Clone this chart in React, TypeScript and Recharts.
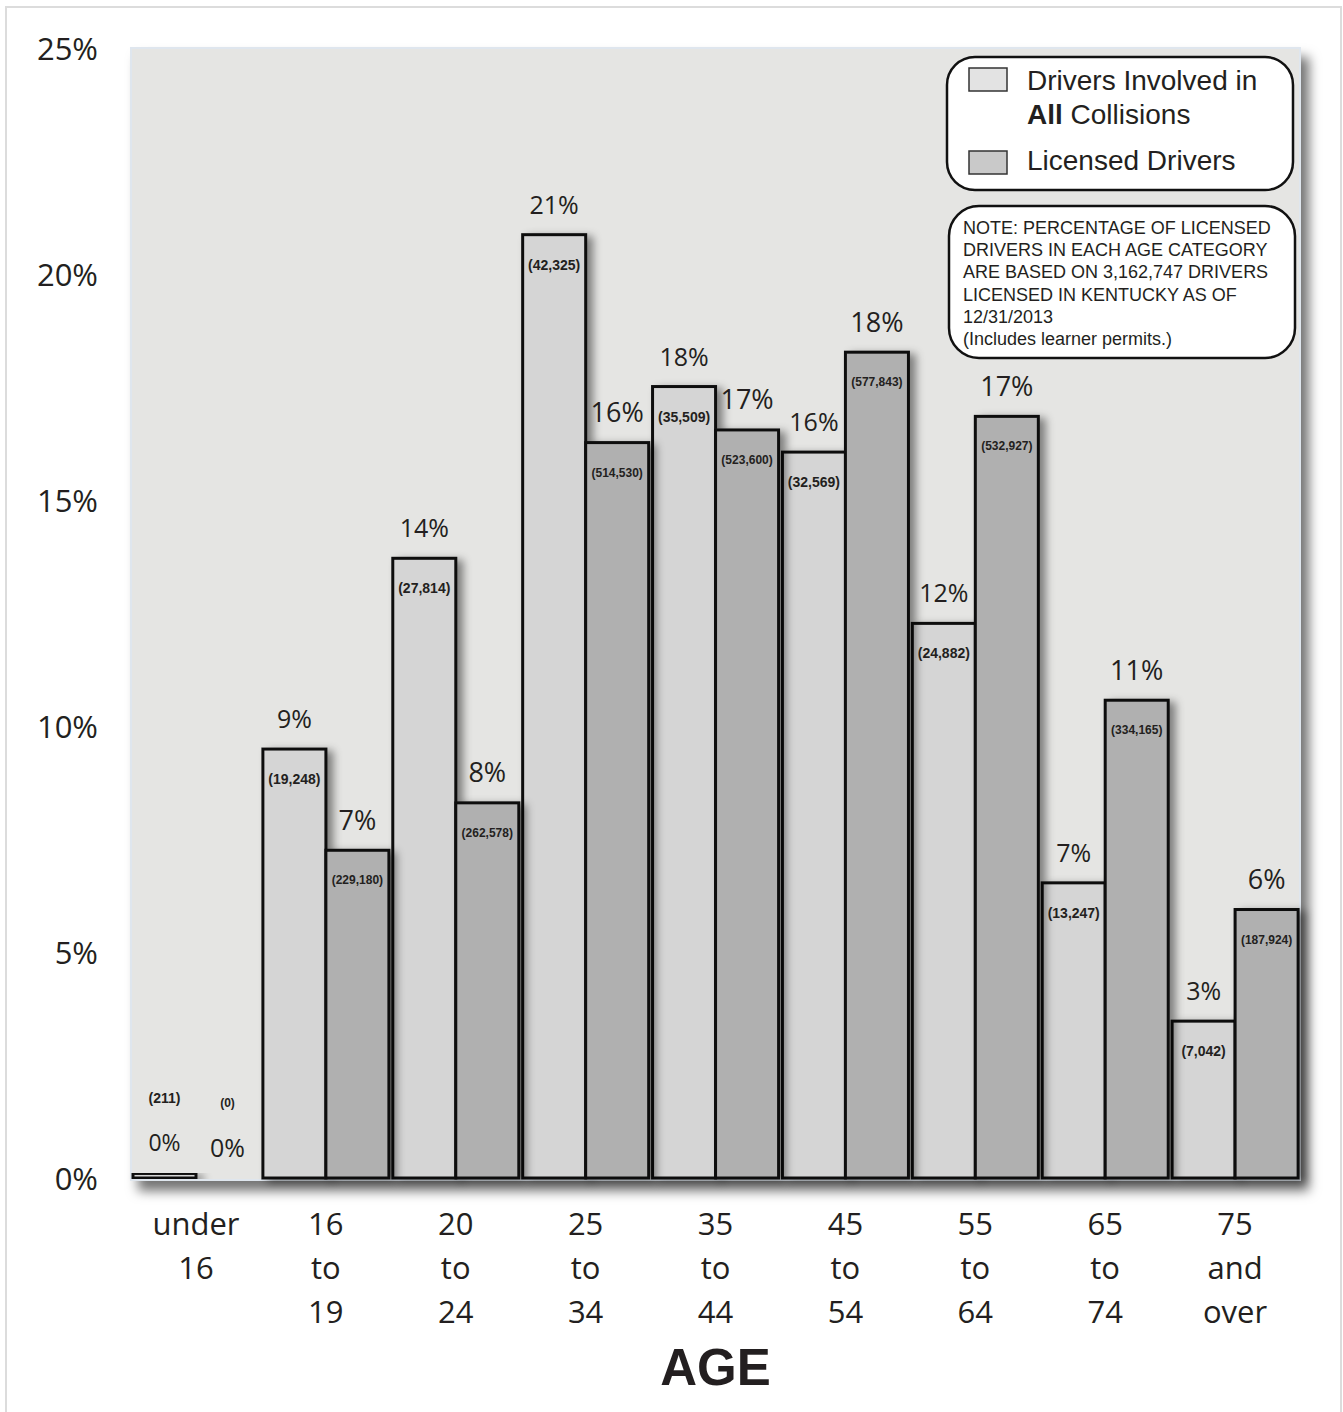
import React from "react";
import { BarChart, Bar, XAxis, YAxis, ReferenceArea, Legend, LabelList } from "recharts";

const ageGroups = ["under 16", "16 to 19", "20 to 24", "25 to 34", "35 to 44", "45 to 54", "55 to 64", "65 to 74", "75 and over"];
const collisionPct = [0.1, 9.49, 13.71, 20.87, 17.51, 16.06, 12.27, 6.53, 3.47];
const collisionCount = ["(211)", "(19,248)", "(27,814)", "(42,325)", "(35,509)", "(32,569)", "(24,882)", "(13,247)", "(7,042)"];
const licensedPct = [0, 7.25, 8.3, 16.27, 16.55, 18.27, 16.85, 10.57, 5.94];
const licensedCount = ["(0)", "(229,180)", "(262,578)", "(514,530)", "(523,600)", "(577,843)", "(532,927)", "(334,165)", "(187,924)"];
const yTicks = [0, 5, 10, 15, 20, 25];
const noteLines = [
  "NOTE: PERCENTAGE OF LICENSED",
  "DRIVERS IN EACH AGE CATEGORY",
  "ARE BASED ON 3,162,747 DRIVERS",
  "LICENSED IN KENTUCKY AS OF",
  "12/31/2013",
  "(Includes learner permits.)",
];

const data = ageGroups.map((age, i) => ({
  age,
  collisions: collisionPct[i],
  licensed: licensedPct[i],
}));

const INK = "#231f20";
const CALIBRI = "'Open Sans', sans-serif";
const ARIAL = "'Liberation Sans', Arial, sans-serif";

const ShadowBar = (props: any) => {
  const { x, y, width, height, fill } = props;
  if (!height || height <= 0) return null;
  return (
    <rect x={x} y={y} width={width} height={height} fill={fill} stroke="#111" strokeWidth={3} filter="url(#barShadow)" />
  );
};

const PlotBg = (props: any) => {
  const { x, y, width, height } = props;
  return (
    <rect x={x} y={y} width={width} height={height + 2} fill="#e5e5e3" stroke="#dfe6ee" strokeWidth={2} filter="url(#plotShadow)" />
  );
};

const makeLabels = (counts: string[], pctSize: number, countSize: number) => (props: any) => {
  const { x, y, width, value, index } = props;
  const cx = Number(x) + Number(width) / 2;
  const top = Number(y);
  const small = value < 1;
  return (
    <g>
      <text x={cx} y={top - 31} textAnchor="middle" dominantBaseline="central" fontSize={small ? pctSize - 2 : pctSize} fontFamily={CALIBRI} fill={INK}>
        {`${Math.round(value)}%`}
      </text>
      <text x={cx} y={small ? top - 75 : top + 30} textAnchor="middle" dominantBaseline="central" fontSize={countSize} fontWeight={700} fontFamily={ARIAL} fill={INK}>
        {counts[index]}
      </text>
    </g>
  );
};

const AgeTick = (props: any) => {
  const { x, y, payload } = props;
  const lines = String(payload.value).split(" ");
  return (
    <text x={x} y={y} textAnchor="middle" fontSize={31} fontFamily={CALIBRI} fill={INK}>
      {lines.map((l, i) => (
        <tspan key={i} x={x} dy={i === 0 ? 0 : 44}>{l}</tspan>
      ))}
    </text>
  );
};

const PctTick = (props: any) => {
  const { x, y, payload } = props;
  return (
    <text x={x} y={y} textAnchor="end" dominantBaseline="central" fontSize={31} fontFamily={CALIBRI} fill={INK}>
      {`${payload.value}%`}
    </text>
  );
};

const LegendBoxes = () => (
  <svg width={352} height={306} style={{ display: "block" }}>
    <rect x={2} y={2} width={346} height={133} rx={28} fill="#fff" stroke="#111" strokeWidth={2.5} />
    <rect x={24} y={13} width={38} height={23} fill="#e3e3e3" stroke="#333" strokeWidth={1.5} />
    <text x={82} y={35} fontSize={28} fontFamily={ARIAL} fill={INK}>Drivers Involved in</text>
    <text x={82} y={69} fontSize={28} fontFamily={ARIAL} fill={INK}>
      <tspan fontWeight={700}>All</tspan> Collisions
    </text>
    <rect x={24} y={96} width={38} height={23} fill="#c9c9c9" stroke="#333" strokeWidth={1.5} />
    <text x={82} y={115} fontSize={28} fontFamily={ARIAL} fill={INK}>Licensed Drivers</text>
    <rect x={4} y={151} width={346} height={152} rx={30} fill="#fff" stroke="#111" strokeWidth={2.5} />
    {noteLines.map((l, i) => (
      <text key={i} x={18} y={179 + i * 22.2} fontSize={18} fontFamily={ARIAL} fill={INK}>{l}</text>
    ))}
  </svg>
);

export default function App() {
  return (
    <div style={{ position: "absolute", left: 0, top: 0, width: 1343, height: 1412, overflow: "hidden", background: "#fff" }}>
      <div style={{ position: "absolute", left: 5, top: 6, width: 1333, height: 1440, border: "2px solid #dcdcdc" }} />
      <BarChart
        width={1343}
        height={1412}
        data={data}
        margin={{ top: 48, right: 43, bottom: 0, left: 0 }}
        barCategoryGap={2}
        barGap={0}
      >
        <defs>
          <filter id="barShadow" x="-30%" y="-10%" width="160%" height="130%">
            <feDropShadow dx={6} dy={3} stdDeviation={4} floodColor="#000" floodOpacity={0.45} />
          </filter>
          <filter id="plotShadow" x="-5%" y="-5%" width="112%" height="112%">
            <feDropShadow dx={8} dy={10} stdDeviation={6} floodColor="#000" floodOpacity={0.55} />
          </filter>
        </defs>
        <ReferenceArea y1={0} y2={25} shape={<PlotBg />} ifOverflow="visible" />
        <XAxis
          dataKey="age"
          height={234}
          axisLine={false}
          tickLine={false}
          tickSize={0}
          tickMargin={57}
          interval={0}
          tick={<AgeTick />}
          label={{ value: "AGE", position: "insideBottom", offset: 27, fill: INK, fontSize: 51, fontWeight: 700, fontFamily: ARIAL }}
        />
        <YAxis
          domain={[0, 25]}
          ticks={yTicks}
          width={131}
          axisLine={false}
          tickLine={false}
          tickSize={0}
          tickMargin={33}
          tick={<PctTick />}
        />
        <Legend
          layout="horizontal"
          align="center"
          verticalAlign="middle"
          wrapperStyle={{ left: 945, top: 55, width: 352, height: 306 }}
          content={() => <LegendBoxes />}
        />
        <Bar dataKey="collisions" name="Drivers Involved in All Collisions" fill="#d5d5d5" shape={<ShadowBar />} isAnimationActive={false}>
          <LabelList dataKey="collisions" content={makeLabels(collisionCount, 25, 14)} />
        </Bar>
        <Bar dataKey="licensed" name="Licensed Drivers" fill="#b0b0b0" shape={<ShadowBar />} isAnimationActive={false}>
          <LabelList dataKey="licensed" content={makeLabels(licensedCount, 27, 12)} />
        </Bar>
      </BarChart>
    </div>
  );
}
